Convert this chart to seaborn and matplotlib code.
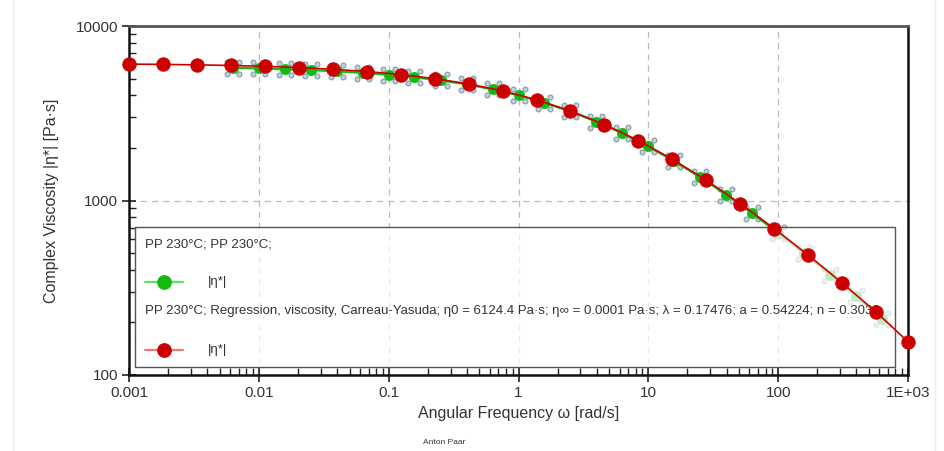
import numpy as np
import pandas as pd
import matplotlib
matplotlib.use("Agg")
import matplotlib.pyplot as plt
import seaborn as sns
from matplotlib.path import Path
from matplotlib.lines import Line2D
from matplotlib.patches import Rectangle

# ---- data ----
meas_freq = [0.00631, 0.01, 0.0158, 0.0251, 0.0398, 0.0631, 0.1, 0.158, 0.251, 0.398,
             0.631, 1.0, 1.58, 2.51, 3.98, 6.31, 10.0, 15.8, 25.1, 39.8,
             63.1, 100.0, 158.0, 251.0, 398.0, 631.0]
meas_visc = [5760, 5710, 5650, 5590, 5500, 5390, 5250, 5080, 4880, 4630,
             4340, 4010, 3630, 3240, 2830, 2430, 2040, 1680, 1360, 1080,
             845, 650, 497, 376, 282, 210]

fit_freq = [0.001, 0.00183, 0.00333, 0.00610, 0.0111, 0.0203, 0.0371, 0.0678, 0.124, 0.226,
            0.413, 0.754, 1.38, 2.51, 4.59, 8.39, 15.3, 28.0, 51.1, 93.4,
            171.0, 312.0, 570.0, 1000.0]
fit_visc = [6050, 6025, 5990, 5940, 5870, 5775, 5650, 5485, 5270, 4995,
            4655, 4245, 3775, 3260, 2725, 2205, 1725, 1305, 960, 690,
            485, 336, 229, 155]

x_ticks = [0.001, 0.01, 0.1, 1, 10, 100, 1000]
x_ticklabels = ["0.001", "0.01", "0.1", "1", "10", "100", "1E+03"]
y_ticks = [100, 1000, 10000]
y_ticklabels = ["100", "1000", "10000"]

legend_title1 = "PP 230°C; PP 230°C;"
legend_title2 = ("PP 230°C; Regression, viscosity, Carreau-Yasuda; η0 = 6124.4 Pa·s; "
                 "η∞ = 0.0001 Pa·s; λ = 0.17476; a = 0.54224; n = 0.3038")
series_label = "|η*|"

meas = pd.DataFrame({"freq": meas_freq, "visc": meas_visc})
fit = pd.DataFrame({"freq": fit_freq, "visc": fit_visc})

# ---- style ----
sns.set_theme(style="white")
plt.rcParams["font.family"] = ["Liberation Sans", "DejaVu Sans"]
txt = "#333333"

GREEN = "#11bb11"
RED = "#cc0000"

fig = plt.figure(figsize=(9.44, 4.51), dpi=100)
fig.patch.set_facecolor("white")
ax = fig.add_axes([129 / 944, 1 - 375 / 451, 779 / 944, 349 / 451])
ax.set_facecolor("white")

# faint outer frame
fig.add_artist(Rectangle((13 / 944, -0.01), (935 - 13) / 944, 1.05, transform=fig.transFigure,
                         fill=False, edgecolor="#eeeeee", lw=1))

ax.set_xscale("log")
ax.set_yscale("log")

# satellite marker path (4 small circles)
off, r = 0.71, 0.29
sat_path = Path.make_compound_path(*[Path.circle((dx, dy), r)
                                     for dx in (-off, off) for dy in (-off, off)])

sns.scatterplot(data=meas, x="freq", y="visc", marker=sat_path, s=146,
                color="#b9d4e2", edgecolor="#8899a4", linewidth=0.8, ax=ax, zorder=2)
sns.lineplot(data=meas, x="freq", y="visc", color=GREEN, lw=1.6, ax=ax, zorder=2.2,
             sort=False, estimator=None)
sns.scatterplot(data=meas, x="freq", y="visc", marker="o", s=55, color=GREEN,
                edgecolor=GREEN, linewidth=0.5, ax=ax, zorder=2.4)

# legend box (semi-transparent, drawn between data series)
ax.add_patch(Rectangle((0.0077, 0.023), 0.975, 0.401, transform=ax.transAxes,
                       facecolor="white", alpha=0.72, edgecolor="none", zorder=3))
ax.add_patch(Rectangle((0.0077, 0.023), 0.975, 0.401, transform=ax.transAxes,
                       facecolor="none", edgecolor="#555555", lw=1.0, zorder=3.1))

sns.lineplot(data=fit, x="freq", y="visc", color=RED, lw=1.2, marker="o", markersize=9.6,
             markeredgecolor=RED, markerfacecolor=RED, ax=ax, zorder=4, clip_on=False,
             sort=False, estimator=None)

LFS = 9.5
lx0, lx1, lxm, lxt = 0.0205, 0.0693, 0.0449, 0.1014
ax.text(lx0, 0.375, legend_title1, transform=ax.transAxes, fontsize=LFS, color=txt,
        va="center", ha="left", zorder=3.2)
ax.add_line(Line2D([lx0, lx1], [0.2665, 0.2665], transform=ax.transAxes, color="#66dd66",
                   lw=1.6, zorder=3.2))
ax.add_line(Line2D([lxm], [0.2665], transform=ax.transAxes, marker="o", markersize=9.6,
                   color=GREEN, zorder=3.3))
ax.text(lxt, 0.2665, series_label, transform=ax.transAxes, fontsize=LFS, color=txt,
        va="center", ha="left", zorder=3.2)
ax.text(lx0, 0.1834, legend_title2, transform=ax.transAxes, fontsize=LFS, color=txt,
        va="center", ha="left", zorder=3.2)
ax.add_line(Line2D([lx0, lx1], [0.0716, 0.0716], transform=ax.transAxes, color="#ee7777",
                   lw=1.6, zorder=3.2))
ax.add_line(Line2D([lxm], [0.0716], transform=ax.transAxes, marker="o", markersize=9.6,
                   color=RED, zorder=3.3))
ax.text(lxt, 0.0716, series_label, transform=ax.transAxes, fontsize=LFS, color=txt,
        va="center", ha="left", zorder=3.2)

ax.set_xlim(1e-3, 1e3)
ax.set_ylim(100, 10000)
ax.set_xticks(x_ticks)
ax.set_xticklabels(x_ticklabels)
ax.set_yticks(y_ticks)
ax.set_yticklabels(y_ticklabels)
ax.xaxis.set_minor_locator(matplotlib.ticker.LogLocator(base=10, subs=np.arange(2, 10)))
ax.yaxis.set_minor_locator(matplotlib.ticker.LogLocator(base=10, subs=np.arange(2, 10)))
ax.xaxis.set_minor_formatter(matplotlib.ticker.NullFormatter())
ax.yaxis.set_minor_formatter(matplotlib.ticker.NullFormatter())

ax.grid(True, which="major", color="#bbbbbb", lw=0.9, ls=(0, (5, 4)))
ax.set_axisbelow(True)

ax.tick_params(which="major", direction="inout", length=10, width=1.2, colors="#222222",
               labelsize=11, labelcolor=txt, bottom=True, left=True, pad=3)
ax.tick_params(which="minor", direction="in", length=5, width=1.0, colors="#222222",
               bottom=True, left=True)

for side in ["left", "bottom", "right"]:
    ax.spines[side].set_color("#111111")
    ax.spines[side].set_linewidth(1.8)
ax.spines["top"].set_color("#555555")
ax.spines["top"].set_linewidth(2.0)

ax.set_xlabel("Angular Frequency ω [rad/s]", fontsize=11.5, color=txt, labelpad=4)
ax.set_ylabel("Complex Viscosity |η*| [Pa·s]", fontsize=11.5, color=txt, labelpad=12)

fig.text(444 / 944, 1 - 442 / 451, "Anton Paar", fontsize=6, color=txt, ha="center",
         va="center")

fig.savefig("out.png", dpi=100, facecolor="white")
